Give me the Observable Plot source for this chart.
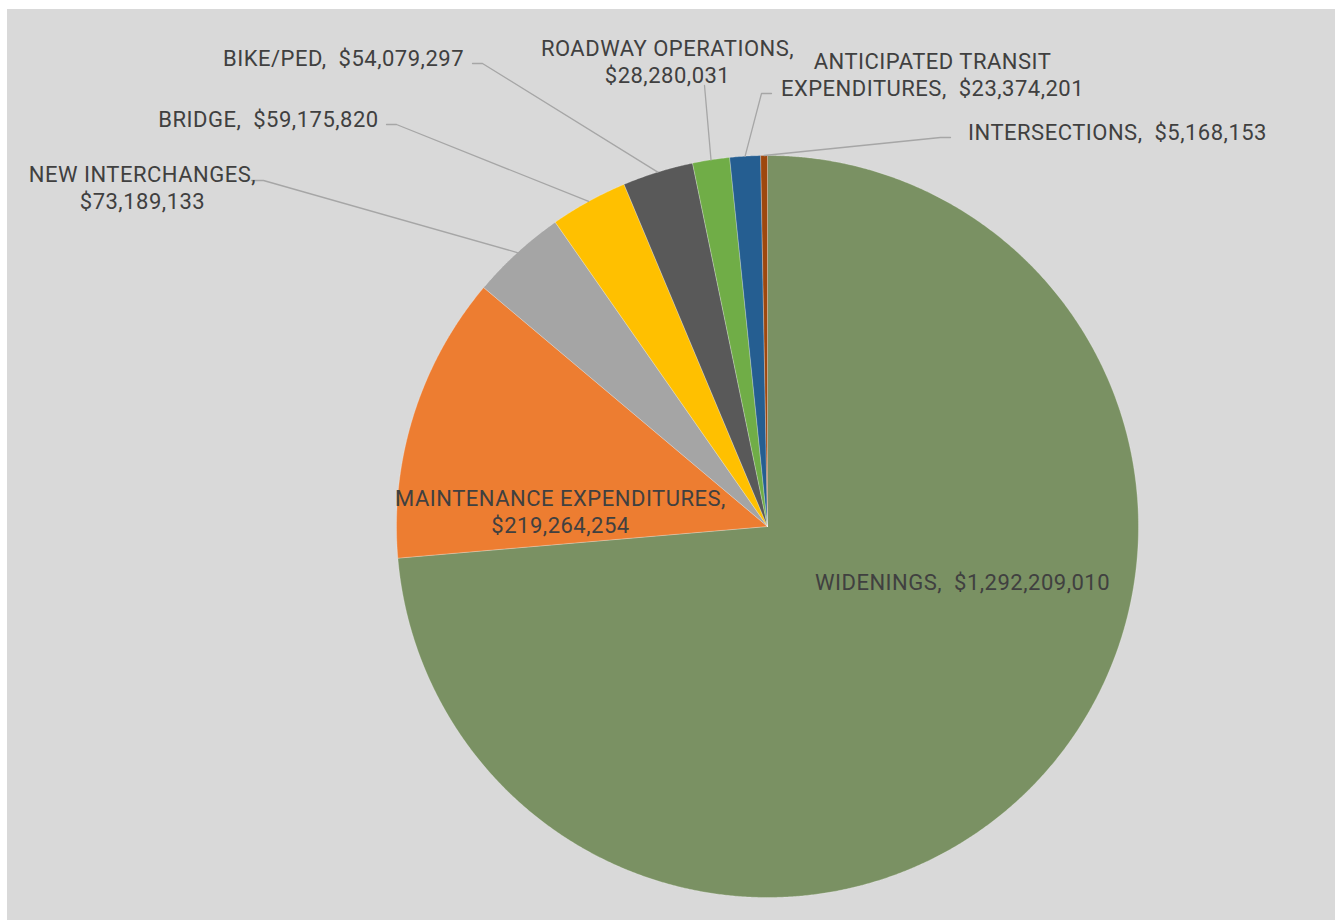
<!DOCTYPE html>
<html><head><meta charset="utf-8">
<script src="https://cdn.jsdelivr.net/npm/d3@7"></script>
<script src="https://cdn.jsdelivr.net/npm/@observablehq/plot@0.6"></script>
<style>
html,body{margin:0;padding:0;background:#fff;}
#chart{position:absolute;left:7px;top:9px;}
#chart svg text{white-space:pre;letter-spacing:0.5px;}
</style></head><body><div id="chart"></div>
<script>
// ---- data ----
const categories = ["WIDENINGS","MAINTENANCE EXPENDITURES","NEW INTERCHANGES","BRIDGE","BIKE/PED","ROADWAY OPERATIONS","ANTICIPATED TRANSIT EXPENDITURES","INTERSECTIONS"];
const values = [1292209010,219264254,73189133,59175820,54079297,28280031,23374201,5168153];

// ---- style / layout ----
const palette = ["#7a9163","#ed7d31","#a5a5a5","#ffc000","#595959","#70ad47","#255e91","#9e480e"];
const W = 1328, H = 911, CX = 760, CY = 517, R = 371, OX = 7, OY = 9;
const toU = (px, py) => [(px - OX - CX) / R, (py - OY - CY) / R];
// label centre (page px), number of name words before a line break (null = single line), leader start/elbow (page px)
const layout = {
  "WIDENINGS": {at: [962, 581], br: null},
  "MAINTENANCE EXPENDITURES": {at: [560, 510], br: 2},
  "NEW INTERCHANGES": {at: [142, 186], br: 2, leader: [[251, 180], [263, 180]]},
  "BRIDGE": {at: [268, 118], br: null, leader: [[386, 124], [396, 124]]},
  "BIKE/PED": {at: [343, 57], br: null, leader: [[472, 63], [482, 63]]},
  "ROADWAY OPERATIONS": {at: [667, 60], br: 2, leader: [[704, 85]]},
  "ANTICIPATED TRANSIT EXPENDITURES": {at: [932, 73], br: 2, leader: [[771, 93], [761, 93]]},
  "INTERSECTIONS": {at: [1117, 131], br: null, leader: [[950, 137], [940, 137]]}
};

const fmt = v => "$" + d3.format(",")(v);
const arcs = d3.pie().sort(null).value(d => d)(values);

// slice outlines
const slicePts = [];
arcs.forEach((a, i) => {
  const cat = categories[i];
  slicePts.push({cat, x: 0, y: 0});
  const n = Math.max(2, Math.ceil((a.endAngle - a.startAngle) / (Math.PI / 720)));
  for (let k = 0; k <= n; k++) {
    const t = a.startAngle + (a.endAngle - a.startAngle) * k / n;
    slicePts.push({cat, x: Math.sin(t), y: -Math.cos(t)});
  }
  slicePts.push({cat, x: 0, y: 0});
});

// labels
const labels = categories.map((cat, i) => {
  const L = layout[cat];
  const words = cat.split(" ");
  let text;
  if (L.br === null) text = `${cat},  ${fmt(values[i])}`;
  else if (L.br >= words.length) text = `${cat},\n${fmt(values[i])}`;
  else text = `${words.slice(0, L.br).join(" ")}\n${words.slice(L.br).join(" ")},  ${fmt(values[i])}`;
  const [x, y] = toU(...L.at);
  return {cat, text, x, y};
});

// leader lines
const leaderPts = [];
arcs.forEach((a, i) => {
  const cat = categories[i];
  const L = layout[cat];
  if (!L.leader) return;
  L.leader.forEach(p => { const [x, y] = toU(...p); leaderPts.push({cat, x, y}); });
  const m = (a.startAngle + a.endAngle) / 2;
  leaderPts.push({cat, x: Math.sin(m), y: -Math.cos(m)});
});

const chart = Plot.plot({
  width: W, height: H,
  margin: 0,
  style: {background: "#d9d9d9", fontFamily: "Roboto"},
  x: {domain: [-CX / R, (W - CX) / R], range: [0, W], axis: null},
  y: {domain: [-CY / R, (H - CY) / R], range: [0, H], axis: null},
  color: {domain: categories, range: palette},
  marks: [
    Plot.line(slicePts, {x: "x", y: "y", z: "cat", fill: "cat", stroke: "#ffffff", strokeWidth: 0.5, strokeOpacity: 0.5}),
    Plot.line(leaderPts, {x: "x", y: "y", z: "cat", stroke: "#a6a6a6", strokeWidth: 1.3}),
    Plot.text(labels, {x: "x", y: "y", text: "text", fill: "#404040", fontSize: 22, lineHeight: 1.22, textAnchor: "middle", lineAnchor: "middle"})
  ]
});
document.getElementById("chart").append(chart);
</script></body></html>
